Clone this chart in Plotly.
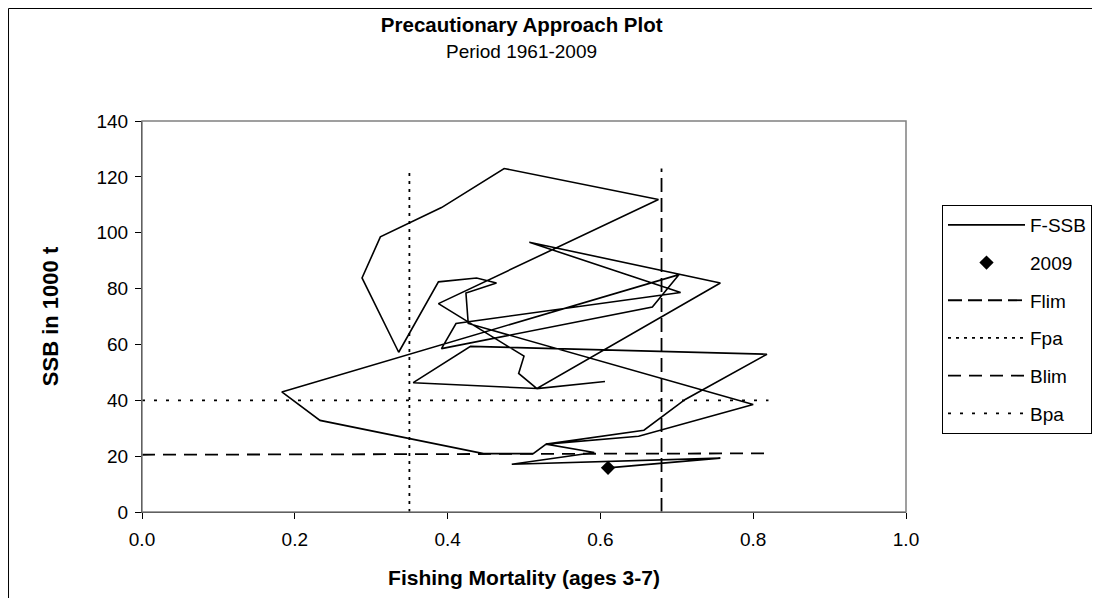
import plotly.graph_objects as go

# F-SSB trajectory (F ages 3-7, SSB in 1000 t)
f_ssb_f = [0.606, 0.517, 0.493, 0.500, 0.388, 0.676, 0.474, 0.392, 0.312, 0.288,
           0.336, 0.388, 0.438, 0.464, 0.424, 0.427, 0.800, 0.650, 0.529, 0.657,
           0.711, 0.818, 0.430, 0.355, 0.517, 0.757, 0.507, 0.705, 0.411, 0.392,
           0.668, 0.703, 0.183, 0.233, 0.447, 0.512, 0.529, 0.592, 0.484, 0.757,
           0.610]
f_ssb_b = [46.7, 44.2, 49.6, 55.8, 74.6, 111.9, 123.0, 109.0, 98.5, 83.8,
           57.2, 82.4, 83.8, 82.0, 78.4, 67.5, 38.5, 27.1, 24.3, 29.3,
           40.3, 56.5, 59.3, 46.3, 44.2, 82.0, 96.6, 78.6, 67.5, 58.5,
           73.4, 85.0, 43.0, 32.8, 20.9, 20.9, 24.3, 21.3, 17.1, 19.3,
           15.8]

last_f = [0.61]
last_b = [15.8]

flim = 0.68
fpa = 0.35
blim = [20.5, 21.0]
bpa = 40
f_max = 0.82
b_max = 123.0

font = "Arial, Liberation Sans, sans-serif"
W, H = 1092, 590

fig = go.Figure()

fig.add_trace(go.Scatter(
    x=f_ssb_f, y=f_ssb_b, mode="lines", name="F-SSB", legendgroup="a",
    line=dict(color="black", width=1.6)
))
fig.add_trace(go.Scatter(
    x=last_f, y=last_b, mode="markers", name="2009", legendgroup="b",
    marker=dict(symbol="diamond", color="black", size=11)
))
fig.add_trace(go.Scatter(
    x=[flim, flim], y=[0, b_max], mode="lines", name="Flim", legendgroup="c",
    line=dict(color="black", width=1.8, dash="14px,6px")
))
fig.add_trace(go.Scatter(
    x=[fpa, fpa], y=[0, b_max], mode="lines", name="Fpa", legendgroup="d",
    line=dict(color="black", width=1.8, dash="3px,5px")
))
fig.add_trace(go.Scatter(
    x=[0, f_max], y=blim, mode="lines", name="Blim", legendgroup="e",
    line=dict(color="black", width=1.8, dash="13px,8px")
))
fig.add_trace(go.Scatter(
    x=[0, f_max], y=[bpa, bpa], mode="lines", name="Bpa", legendgroup="f",
    line=dict(color="black", width=1.8, dash="3px,9px")
))

fig.update_layout(
    width=W, height=H,
    margin=dict(l=134, r=194, t=113, b=86, autoexpand=False),
    paper_bgcolor="white", plot_bgcolor="white",
    font=dict(family=font, color="black"),
    showlegend=True,
    title=dict(
        text="<b>Precautionary Approach Plot</b>",
        x=(134 + 0.497 * 764) / W, xanchor="center",
        yref="container", y=1 - 17 / H, yanchor="middle",
        font=dict(size=20.5)
    ),
    annotations=[
        dict(text="Period 1961-2009", xref="paper", yref="paper",
             x=0.497, y=1.1765, xanchor="center", yanchor="middle",
             showarrow=False, font=dict(size=19))
    ],
    xaxis=dict(
        range=[0, 1], tickvals=[0, 0.2, 0.4, 0.6, 0.8, 1.0], tickformat=".1f",
        showgrid=False, zeroline=False, showline=True, linecolor="black", linewidth=1,
        ticks="outside", ticklen=6, tickcolor="black", tickfont=dict(size=19),
        ticklabelstandoff=4,
        title=dict(text="<b>Fishing Mortality (ages 3-7)</b>", font=dict(size=21), standoff=21)
    ),
    yaxis=dict(
        range=[0, 140], dtick=20,
        showgrid=False, zeroline=False, showline=True, linecolor="black", linewidth=1,
        ticks="outside", ticklen=6, tickcolor="black", tickfont=dict(size=19),
        ticklabelstandoff=3,
        title=dict(text="<b>SSB in 1000 t</b>", font=dict(size=22), standoff=31)
    ),
    legend=dict(
        xref="container", yref="container",
        x=934 / W, xanchor="left", y=1 - 197 / H, yanchor="top",
        bordercolor="black", borderwidth=1, bgcolor="white",
        font=dict(size=19), tracegroupgap=10, itemwidth=77
    ),
    shapes=[
        dict(type="rect", xref="paper", yref="paper", x0=0, x1=1, y0=0, y1=1,
             line=dict(color="#808080", width=1.5)),
        dict(type="rect", xref="paper", yref="paper",
             x0=-0.1747, x1=1.2513, y0=-0.3, y1=1.2877,
             line=dict(color="black", width=1)),
    ],
)

fig.write_html("out.html")
